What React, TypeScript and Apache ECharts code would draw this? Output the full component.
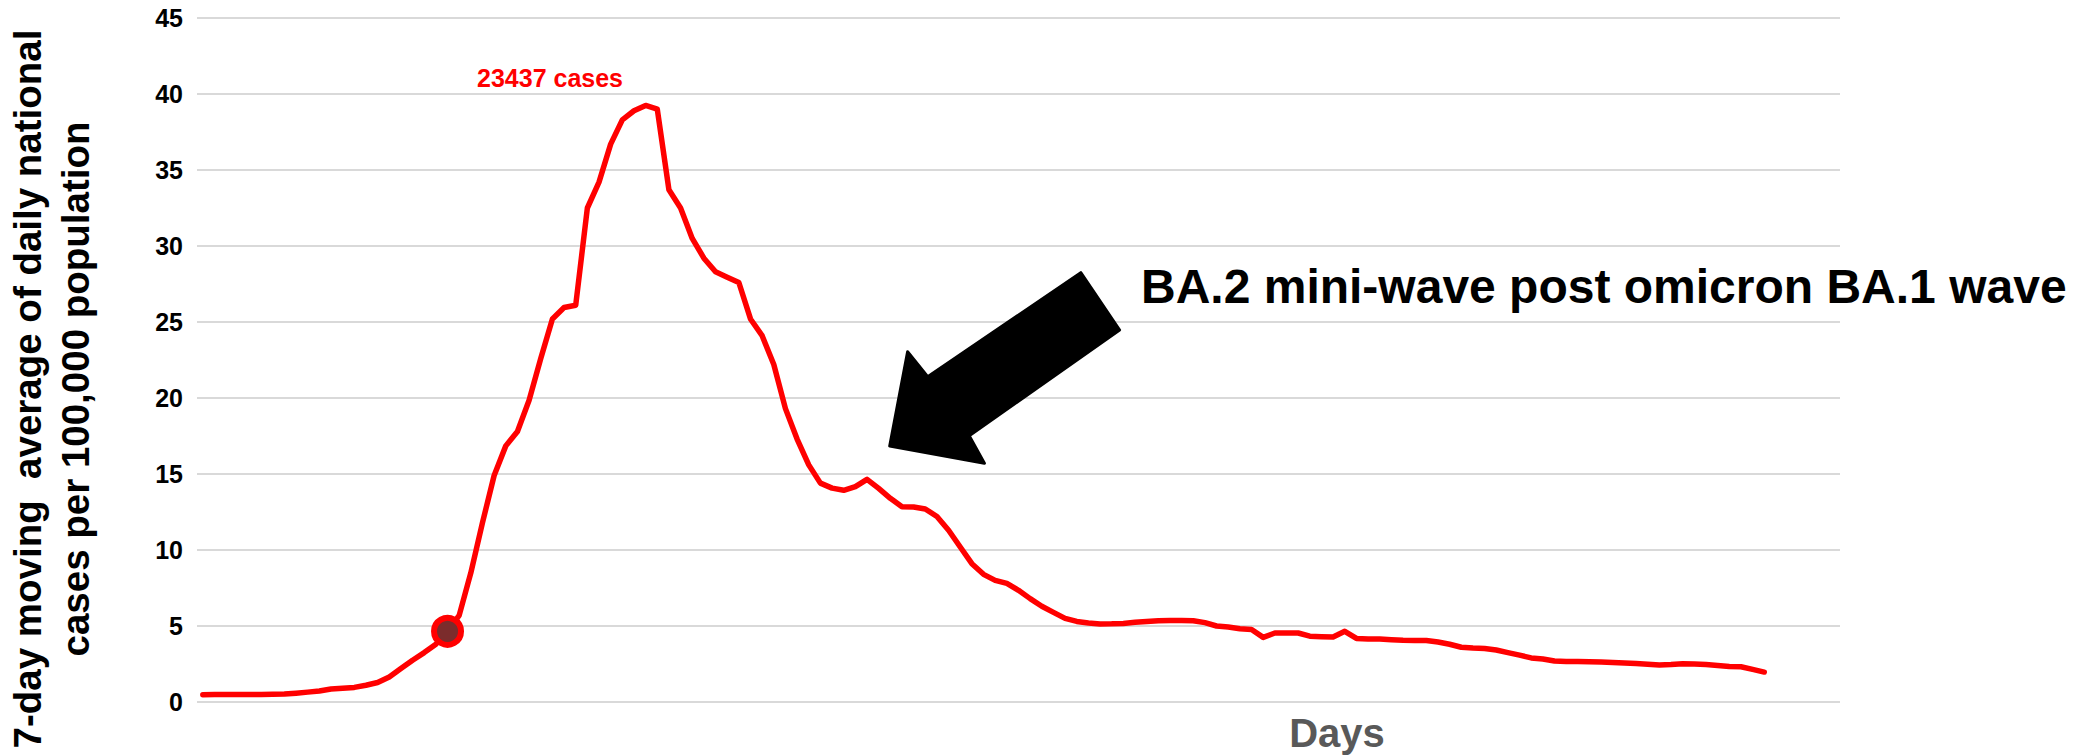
import React, { useEffect, useRef } from "react";
import * as echarts from "echarts";

// Day index categories (x axis has no tick labels; 141 category slots, data for the first 135)
const days: string[] = Array.from({ length: 141 }, (_, i) => String(i + 1));

// 7-day moving average of daily national cases per 100,000 population
const casesPer100k: number[] = [
  0.48, 0.49, 0.5, 0.5, 0.5, 0.5, 0.51, 0.52, 0.58, 0.65,
  0.72, 0.85, 0.9, 0.96, 1.1, 1.28, 1.65, 2.2, 2.75, 3.25,
  3.8, 4.65, 5.7, 8.5, 11.8, 14.9, 16.85, 17.8, 19.85, 22.6,
  25.2, 25.95, 26.1, 32.5, 34.2, 36.7, 38.3, 38.9, 39.25, 39.0,
  33.7, 32.5, 30.5, 29.2, 28.3, 27.95, 27.6, 25.2, 24.1, 22.2,
  19.3, 17.3, 15.6, 14.4, 14.07, 13.93, 14.17, 14.65, 14.05, 13.4,
  12.85, 12.83, 12.7, 12.2, 11.3, 10.2, 9.1, 8.4, 8.0, 7.8,
  7.35, 6.8, 6.3, 5.9, 5.5, 5.3, 5.2, 5.13, 5.14, 5.17,
  5.24, 5.3, 5.35, 5.37, 5.36, 5.35, 5.22, 5.0, 4.93, 4.82,
  4.77, 4.25, 4.54, 4.54, 4.54, 4.33, 4.3, 4.28, 4.65, 4.18,
  4.15, 4.14, 4.1, 4.06, 4.05, 4.05, 3.95, 3.8, 3.6, 3.55,
  3.52, 3.42, 3.25, 3.08, 2.9, 2.83, 2.7, 2.67, 2.67, 2.65,
  2.63, 2.6, 2.57, 2.53, 2.49, 2.43, 2.46, 2.52, 2.5, 2.46,
  2.4, 2.34, 2.32, 2.15, 1.97,
];

const highlightIndex = 21;

const yTicks = { min: 0, max: 45, interval: 5 };

const yTitleLines = [
  "7-day moving  average of daily national",
  "cases per 100,000 population",
];
const xTitle = "Days";
const peakLabel = "23437 cases";
const annotationText = "BA.2 mini-wave post omicron BA.1 wave";

const FONT = "'Liberation Sans', Arial, Helvetica, sans-serif";

export default function App() {
  const ref = useRef<HTMLDivElement>(null);

  useEffect(() => {
    if (!ref.current) return;
    const chart = echarts.init(ref.current, undefined, { renderer: "svg" });

    const option: any = {
      animation: false,
      backgroundColor: "#ffffff",
      grid: { left: 197, right: 233, top: 18, bottom: 53, containLabel: false },
      xAxis: {
        type: "category",
        data: days,
        boundaryGap: true,
        axisLine: { show: false },
        axisTick: { show: false },
        axisLabel: { show: false },
        splitLine: { show: false },
      },
      yAxis: {
        type: "value",
        min: yTicks.min,
        max: yTicks.max,
        interval: yTicks.interval,
        axisLine: { show: false },
        axisTick: { show: false },
        axisLabel: {
          color: "#000000",
          fontFamily: FONT,
          fontWeight: "bold",
          fontSize: 25,
          margin: 14,
        },
        splitLine: { lineStyle: { color: "#d9d9d9", width: 2 } },
      },
      series: [
        {
          type: "line",
          data: casesPer100k,
          symbol: "none",
          showSymbol: false,
          lineStyle: { color: "#ff0000", width: 5.5, cap: "round", join: "round" },
          z: 2,
        },
        {
          type: "scatter",
          data: [[highlightIndex, casesPer100k[highlightIndex]]],
          symbol: "circle",
          symbolSize: 27,
          itemStyle: { color: "#7b2c2c", borderColor: "#ff0000", borderWidth: 6, opacity: 1 },
          z: 3,
        },
      ],
      graphic: [
        {
          type: "text",
          x: 51,
          y: 389,
          z: 100,
          rotation: Math.PI / 2,
          style: {
            text: yTitleLines.join("\n"),
            font: `bold 38.5px ${FONT}`,
            fill: "#000000",
            textAlign: "center",
            textVerticalAlign: "middle",
            lineHeight: 48,
          },
        },
        {
          type: "text",
          x: 1337,
          y: 733,
          z: 100,
          style: {
            text: xTitle,
            font: `bold 40px ${FONT}`,
            fill: "#595959",
            textAlign: "center",
            textVerticalAlign: "middle",
          },
        },
        {
          type: "text",
          x: 550,
          y: 78,
          z: 100,
          style: {
            text: peakLabel,
            font: `bold 25px ${FONT}`,
            fill: "#ff0000",
            textAlign: "center",
            textVerticalAlign: "middle",
          },
        },
        {
          type: "polygon",
          z: 100,
          shape: {
            points: [
              [1080.8, 272.7],
              [1119.6, 330],
              [969.2, 435.7],
              [984.4, 463.3],
              [889.7, 446],
              [907.6, 351.7],
              [927.7, 376.7],
            ],
          },
          style: { fill: "#000000", stroke: "#000000", lineWidth: 3, lineJoin: "round" },
        },
        {
          type: "text",
          x: 1141,
          y: 286,
          z: 100,
          style: {
            text: annotationText,
            font: `bold 48px ${FONT}`,
            fill: "#000000",
            textAlign: "left",
            textVerticalAlign: "middle",
          },
        },
      ],
    };

    chart.setOption(option);
    return () => chart.dispose();
  }, []);

  return (
    <div
      ref={ref}
      style={{ position: "absolute", left: 0, top: 0, width: 2073, height: 755 }}
    />
  );
}
